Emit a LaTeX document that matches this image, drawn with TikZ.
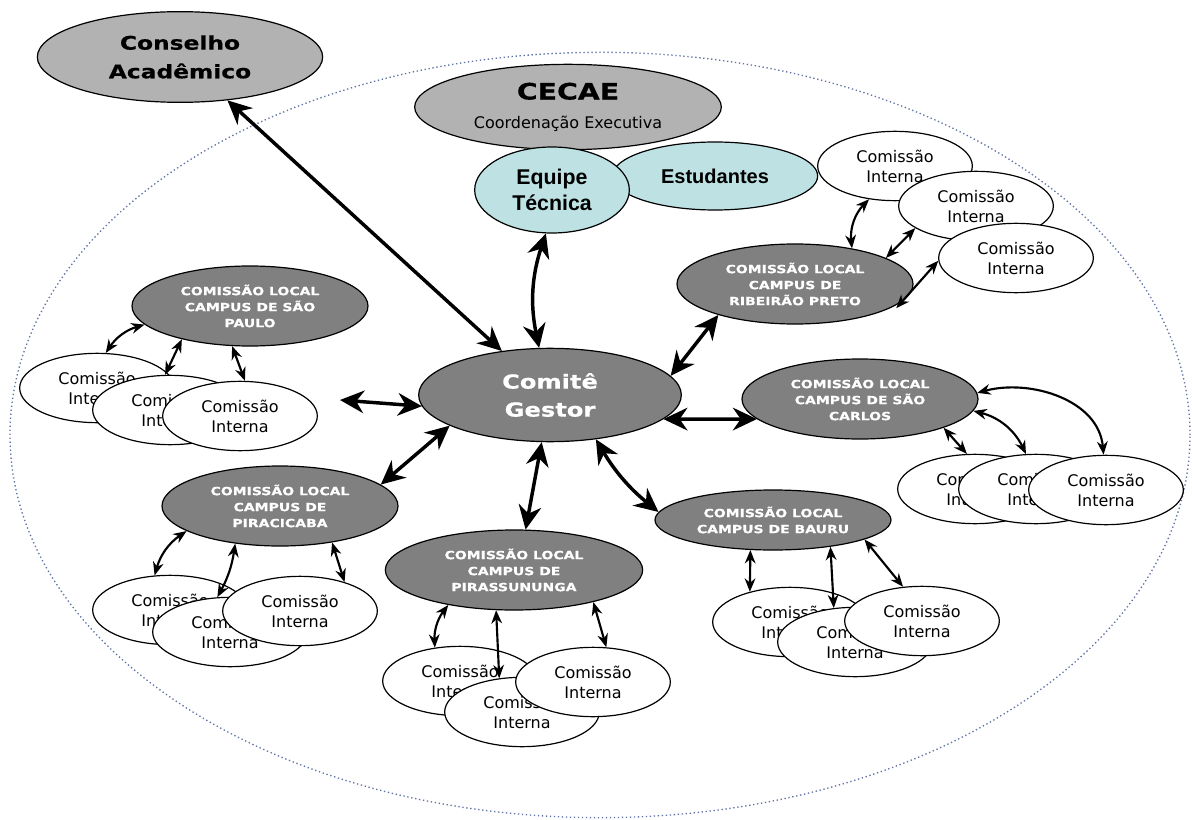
\documentclass[tikz,border=0pt]{standalone}
\usepackage{fontspec}
\setmainfont{DejaVu Sans}
\newfontfamily\blackfont{DejaVu Sans Bold}[FakeStretch=1.25, FakeBold=0.6]
\newfontfamily\arialfont{Liberation Sans}
\usepackage{tikz}
\usetikzlibrary{arrows.meta,shapes}
\definecolor{darkfill}{RGB}{128,128,128}
\definecolor{lightfill}{RGB}{178,178,178}
\definecolor{tealfill}{RGB}{190,226,228}
\definecolor{rim}{RGB}{95,115,165}

\begin{document}
\begin{tikzpicture}[x=0.75pt, y=-0.75pt,
    oval/.style={draw, ellipse, line width=0.9pt, inner sep=0pt, align=center},
    upper/.style={oval, fill=lightfill, font=\blackfont\fontsize{14}{21.5}\selectfont},
    team/.style={oval, fill=tealfill, font=\arialfont\bfseries\fontsize{16}{19.5}\selectfont},
    local/.style={oval, fill=darkfill, text=white, minimum width=177pt, minimum height=60pt, font=\blackfont\fontsize{8.4}{12}\selectfont},
    interna/.style={oval, fill=white, minimum width=116pt, minimum height=52pt, font=\fontsize{12}{15}\selectfont},
    arrow/.style={{Stealth[length=10pt,width=8pt]}-{Stealth[length=10pt,width=8pt]}, line width=1.6pt},
    bigarrow/.style={{Stealth[length=18pt,width=17pt]}-{Stealth[length=18pt,width=17pt]}, line width=2.6pt}
]
    \useasboundingbox (0,0) rectangle (1192,820);
    \draw[rim, dotted, line width=1pt] (600,435) ellipse [x radius=442.5pt, y radius=287pt];

    \node[upper, minimum width=214pt, minimum height=68pt] (conselho) at (180,57) {Conselho\\Acadêmico};
    \node[upper, minimum width=230pt, minimum height=64pt, font=\blackfont\fontsize{17}{21.5}\selectfont] (cecae) at (568,107) {CECAE\\{\normalfont\fontsize{12}{14}\selectfont Coordenação Executiva}};
    \node[team, minimum width=154pt, minimum height=51pt, font=\arialfont\bfseries\fontsize{15}{18}\selectfont] (estudantes) at (715,176) {Estudantes};
    \node[team, minimum width=116pt, minimum height=64.5pt] (equipe) at (552,190) {Equipe\\Técnica};

    \node[local, minimum width=197pt, minimum height=70pt, font=\blackfont\fontsize{14.5}{21}\selectfont] (comite) at (550,395) {Comitê\\Gestor};

    \node[local] (saopaulo) at (250,306) {COMISSÃO LOCAL\\CAMPUS DE SÃO\\PAULO};
    \node[local] (ribeirao) at (795,284) {COMISSÃO LOCAL\\CAMPUS DE\\RIBEIRÃO PRETO};
    \node[local] (saocarlos) at (860,399) {COMISSÃO LOCAL\\CAMPUS DE SÃO\\CARLOS};
    \node[local] (piracicaba) at (280,506) {COMISSÃO LOCAL\\CAMPUS DE\\PIRACICABA};
    \node[local, minimum width=193pt] (pirassununga) at (514,570) {COMISSÃO LOCAL\\CAMPUS DE\\PIRASSUNUNGA};
    \node[local, minimum height=45pt] (bauru) at (773,520) {COMISSÃO LOCAL\\CAMPUS DE BAURU};

    % comissoes internas
    \node[interna] (sp1) at (97,388) {Comissão\\Interna};
    \node[interna] (sp2) at (170,410) {Comissão\\Interna};
    \node[interna] (sp3) at (240,416) {Comissão\\Interna};

    \node[interna] (rib1) at (895,166) {Comissão\\Interna};
    \node[interna] (rib2) at (976,206) {Comissão\\Interna};
    \node[interna] (rib3) at (1016,258) {Comissão\\Interna};

    \node[interna] (sc1) at (975,489) {Comissão\\Interna};
    \node[interna] (sc2) at (1036,489) {Comissão\\Interna};
    \node[interna] (sc3) at (1106,490) {Comissão\\Interna};

    \node[interna] (pira1) at (170,610) {Comissão\\Interna};
    \node[interna] (pira2) at (230,632) {Comissão\\Interna};
    \node[interna] (pira3) at (300,611) {Comissão\\Interna};

    \node[interna] (pss1) at (460,681) {Comissão\\Interna};
    \node[interna] (pss2) at (522,712) {Comissão\\Interna};
    \node[interna] (pss3) at (593,682) {Comissão\\Interna};

    \node[interna] (bau1) at (790,622) {Comissão\\Interna};
    \node[interna] (bau2) at (855,642) {Comissão\\Interna};
    \node[interna] (bau3) at (922,621) {Comissão\\Interna};

    % comite gestor
    \coordinate (west) at (340,400);
    \draw[bigarrow] (conselho) -- (comite);
    \draw[bigarrow] (equipe.-98) to[bend right=15] (comite.103);
    \draw[bigarrow] (west) -- (comite.185);
    \draw[bigarrow] (comite.197) -- (piracicaba.12);
    \draw[bigarrow] (comite.260) -- (pirassununga.74);
    \draw[bigarrow] (comite.316) to[bend right=10] (bauru.176);
    \draw[bigarrow] (comite.348) -- (saocarlos.191);
    \draw[bigarrow] (comite.9) -- (ribeirao.202);

    % comissoes locais
    \draw[arrow] (saopaulo.190) to[bend right=20] (sp1.76);
    \draw[arrow] (saopaulo.206) -- (sp2.98);
    \draw[arrow] (saopaulo.246) -- (sp3.82);

    \draw[arrow] (ribeirao.32) to[bend left=25] (rib1.232);
    \draw[arrow] (ribeirao.16) -- (rib2.200);
    \draw[arrow, shorten <=-18pt] (ribeirao.-3) -- (rib3.182);

    \draw[arrow] (saocarlos.341) -- (sc1.103);
    \draw[arrow] (saocarlos.354) to[bend left=25] (sc2.106);
    \draw[arrow] (saocarlos.3) to[out=15, in=95] (sc3.94);

    \draw[arrow] (piracicaba.195) to[bend right=20] (pira1.114);
    \draw[arrow] (piracicaba.220) to[bend left=10] (pira2.110);
    \draw[arrow] (piracicaba.325) -- (pira3.33);

    \draw[arrow] (pirassununga.208) to[bend right=20] (pss1.127);
    \draw[arrow] (pirassununga.246) -- (pss2.124);
    \draw[arrow] (pirassununga.338) -- (pss3.69);

    \draw[arrow] (bauru.233) -- (bau1.143);
    \draw[arrow] (bauru.335) -- (bau2.122);
    \draw[arrow] (bauru.348) -- (bau3.119);
\end{tikzpicture}
\end{document}
